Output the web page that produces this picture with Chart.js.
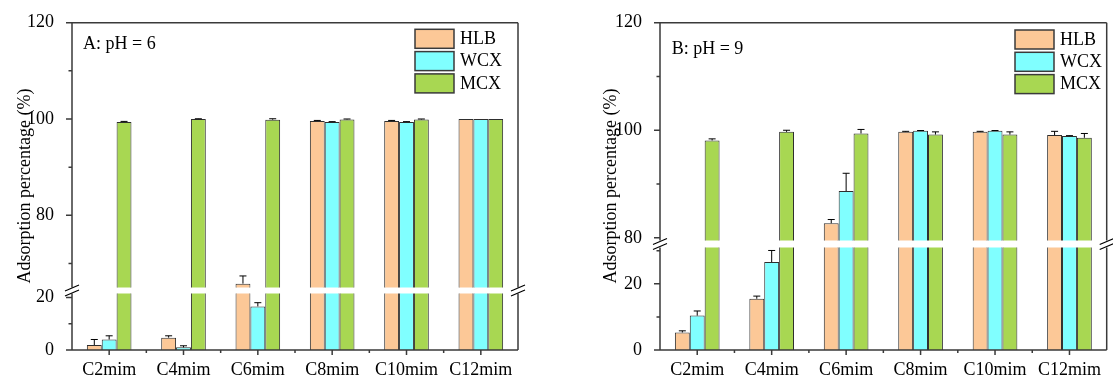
<!DOCTYPE html>
<html>
<head>
<meta charset="utf-8">
<script src="https://cdn.jsdelivr.net/npm/chart.js@4.4.1/dist/chart.umd.min.js"></script>
<style>
  html, body { margin: 0; padding: 0; background: #fff; }
  #wrap { position: relative; width: 1113px; height: 381px; overflow: hidden; }
  canvas { position: absolute; }
</style>
</head>
<body>
<div id="wrap">
  <canvas id="aTop" width="540" height="330" style="left:0;top:0"></canvas>
  <canvas id="aBot" width="540" height="161" style="left:0;top:220px"></canvas>
  <canvas id="bTop" width="557" height="330" style="left:556px;top:0"></canvas>
  <canvas id="bBot" width="557" height="161" style="left:556px;top:220px"></canvas>
</div>
<script>
const categories = ['C2mim', 'C4mim', 'C6mim', 'C8mim', 'C10mim', 'C12mim'];
const seriesNames = ['HLB', 'WCX', 'MCX'];
const seriesColors = ['#FCC897', '#80FFFF', '#A8D752'];

// A: pH = 6
const hlbA = [1.9, 4.7, 65.8, 99.6, 99.6, 100.0];
const wcxA = [4.0, 1.0, 16.6, 99.4, 99.4, 100.0];
const mcxA = [99.4, 100.0, 99.85, 99.9, 99.9, 100.0];
const hlbErrA = [2.1, 0.7, 1.6, 0.1, 0.1, 0];
const wcxErrA = [1.4, 0.6, 1.4, 0.05, 0.05, 0];
const mcxErrA = [0.1, 0.05, 0.2, 0.1, 0.1, 0];

// B: pH = 9
const hlbB = [5.3, 15.5, 82.7, 99.7, 99.7, 99.1];
const wcxB = [10.4, 26.6, 88.7, 99.9, 99.9, 98.95];
const mcxB = [98.1, 99.7, 99.4, 99.2, 99.2, 98.6];
const hlbErrB = [0.5, 0.8, 0.7, 0.1, 0.1, 0.7];
const wcxErrB = [1.4, 3.5, 3.3, 0.05, 0.05, 0.05];
const mcxErrB = [0.3, 0.3, 0.75, 0.5, 0.5, 0.8];

// broken y axes: upper and lower segments
const rangeTopA = [65, 120], rangeBotA = [0, 21.5];
const rangeTopB = [79.5, 120], rangeBotB = [0, 31];
const ticksTopA = [70, 80, 90, 100, 110, 120];
const ticksBotA = [0, 10, 20];
const ticksTopB = [80, 90, 100, 110, 120];
const ticksBotB = [0, 10, 20, 30];

const yTitle = 'Adsorption percentage (%)';
const fontFamily = '"Liberation Serif", "Times New Roman", serif';
const tickFont = { family: fontFamily, size: 18 };
const ink = '#3a3a3a';

// frame, ticks, break marks, error bars, legend, labels
const decor = {
  id: 'decor',
  afterDatasetsDraw(chart) {
    const { ctx, chartArea: a, scales } = chart;
    ctx.save();
    ctx.beginPath();
    ctx.rect(a.left, a.top - 1, a.right - a.left, a.bottom - a.top + 1);
    ctx.clip();
    ctx.strokeStyle = '#000';
    ctx.lineWidth = 1;
    chart.data.datasets.forEach((ds, i) => {
      chart.getDatasetMeta(i).data.forEach((bar, j) => {
        const e = ds.errors[j];
        if (!e) return;
        const y0 = scales.y.getPixelForValue(ds.data[j]);
        const y1 = scales.y.getPixelForValue(ds.data[j] + e);
        ctx.beginPath();
        ctx.moveTo(bar.x, y0);
        ctx.lineTo(bar.x, y1);
        ctx.moveTo(bar.x - 3.5, y1);
        ctx.lineTo(bar.x + 3.5, y1);
        ctx.stroke();
      });
    });
    ctx.restore();
  },
  afterDraw(chart, args, o) {
    const { ctx, chartArea: a, scales } = chart;
    ctx.save();
    ctx.strokeStyle = ink;
    ctx.lineWidth = 1.5;
    ctx.beginPath();
    ctx.moveTo(a.left, a.top); ctx.lineTo(a.left, a.bottom);
    ctx.moveTo(a.right, a.top); ctx.lineTo(a.right, a.bottom);
    if (o.top) { ctx.moveTo(a.left, a.top); ctx.lineTo(a.right, a.top); }
    if (o.bottom) { ctx.moveTo(a.left - 6, a.bottom); ctx.lineTo(a.right, a.bottom); }
    scales.y.ticks.forEach(t => {
      const y = scales.y.getPixelForValue(t.value);
      const len = t.value % 20 === 0 ? 6 : 3.5;
      ctx.moveTo(a.left - len, y);
      ctx.lineTo(a.left, y);
    });
    if (o.bottom) {
      const xs = scales.x;
      const step = (a.right - a.left) / categories.length;
      categories.forEach((c, i) => {
        const x = xs.getPixelForValue(i);
        ctx.moveTo(x, a.bottom); ctx.lineTo(x, a.bottom + 5);
        if (i > 0) {
          ctx.moveTo(x - step / 2, a.bottom); ctx.lineTo(x - step / 2, a.bottom + 3);
        }
      });
    }
    ctx.stroke();

    if (o.gap) {
      const yc = a.top - o.gap / 2;
      ctx.lineWidth = 1.2;
      ctx.strokeStyle = '#000';
      ctx.beginPath();
      [a.left, a.right].forEach(x => {
        [-2.5, 2.5].forEach(d => {
          ctx.moveTo(x - 7, yc + d + 3);
          ctx.lineTo(x + 7, yc + d - 3);
        });
      });
      ctx.stroke();
    }

    if (o.label) {
      ctx.fillStyle = '#000';
      ctx.font = '18px ' + fontFamily;
      ctx.textBaseline = 'middle';
      ctx.textAlign = 'left';
      ctx.fillText(o.label, o.labelX, o.labelY);

      chart.data.datasets.forEach((ds, i) => {
        const y = o.legendY + i * 22.3;
        ctx.fillStyle = ds.backgroundColor;
        ctx.fillRect(o.legendX, y, 39, 19);
        ctx.strokeStyle = ink;
        ctx.lineWidth = 1.5;
        ctx.strokeRect(o.legendX, y, 39, 19);
        ctx.fillStyle = '#000';
        ctx.fillText(ds.label, o.legendX + 45, y + 10);
      });

      ctx.save();
      ctx.translate(o.titleX, o.titleY);
      ctx.rotate(-Math.PI / 2);
      ctx.textAlign = 'center';
      ctx.fillText(yTitle, 0, 0);
      ctx.restore();
    }
    ctx.restore();
  }
};

function buildChart(id, cfg) {
  return new Chart(document.getElementById(id), {
    type: 'bar',
    data: {
      labels: categories,
      datasets: seriesNames.map((name, i) => ({
        label: name,
        data: cfg.values[i],
        errors: cfg.errors[i],
        backgroundColor: seriesColors[i],
        borderColor: '#2e2e2e',
        borderWidth: 1,
        categoryPercentage: 0.6,
        barPercentage: 1.0,
        clip: 0
      }))
    },
    options: {
      responsive: false,
      animation: false,
      events: [],
      layout: { padding: cfg.padding },
      plugins: {
        legend: { display: false },
        tooltip: { enabled: false },
        decor: cfg.decor
      },
      scales: {
        x: {
          display: cfg.showX,
          offset: true,
          grid: { display: false },
          border: { display: false },
          ticks: { font: tickFont, color: '#000', padding: 1, maxRotation: 0 },
          afterFit: s => { if (cfg.showX) s.height = 31; }
        },
        y: {
          min: cfg.range[0],
          max: cfg.range[1],
          grid: { display: false },
          border: { display: false },
          afterBuildTicks: s => { s.ticks = cfg.ticks.map(v => ({ value: v })); },
          ticks: {
            font: tickFont,
            color: '#000',
            padding: 10,
            callback: v => (v % 20 === 0 ? v : '')
          },
          afterFit: s => { s.width = cfg.yWidth; }
        }
      }
    },
    plugins: [decor]
  });
}

buildChart('aTop', {
  values: [hlbA, wcxA, mcxA], errors: [hlbErrA, wcxErrA, mcxErrA],
  range: rangeTopA, ticks: ticksTopA, yWidth: 72, showX: false,
  padding: { top: 22.7, right: 22, bottom: 42.5, left: 0 },
  decor: { top: true, label: 'A: pH = 6', labelX: 83, labelY: 44,
           legendX: 415, legendY: 29.3, titleX: 25, titleY: 186 }
});
buildChart('aBot', {
  values: [hlbA, wcxA, mcxA], errors: [hlbErrA, wcxErrA, mcxErrA],
  range: rangeBotA, ticks: ticksBotA, yWidth: 72, showX: true,
  padding: { top: 73.5, right: 22, bottom: 0, left: 0 },
  decor: { bottom: true, gap: 6 }
});
buildChart('bTop', {
  values: [hlbB, wcxB, mcxB], errors: [hlbErrB, wcxErrB, mcxErrB],
  range: rangeTopB, ticks: ticksTopB, yWidth: 104, showX: false,
  padding: { top: 22.7, right: 6.3, bottom: 89.5, left: 0 },
  decor: { top: true, label: 'B: pH = 9', labelX: 115.7, labelY: 49,
           legendX: 459, legendY: 30, titleX: 55.7, titleY: 186 }
});
buildChart('bBot', {
  values: [hlbB, wcxB, mcxB], errors: [hlbErrB, wcxErrB, mcxErrB],
  range: rangeBotB, ticks: ticksBotB, yWidth: 104, showX: true,
  padding: { top: 27.5, right: 6.3, bottom: 0, left: 0 },
  decor: { bottom: true, gap: 7 }
});
</script>
</body>
</html>
